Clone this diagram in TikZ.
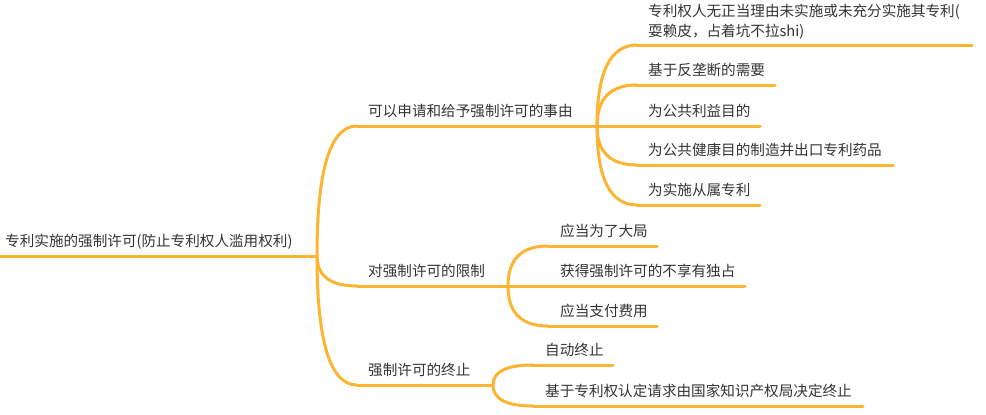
\documentclass[tikz,border=0pt]{standalone}
\usepackage{fontspec}
\setmainfont{Noto Sans CJK SC}
\usetikzlibrary{calc}
\definecolor{branchc}{HTML}{FDB431}
\definecolor{txtc}{HTML}{333333}
\tikzset{
  link/.style={draw=branchc, line width=3pt, line cap=round},
  lbl/.style={anchor=base west, inner sep=0pt, text=txtc, font=\fontsize{14.6}{20}\selectfont},
}
\newcommand{\mybranch}[2]{% junction, start
  \draw[link] (#1) .. controls ($(#1)!0.667!(#1|-#2)$) and ($(#2)!0.667!(#1|-#2)$) .. (#2);}
\begin{document}
\begin{tikzpicture}[x=1pt,y=-1pt]
\useasboundingbox (0,0) rectangle (986,415);
% root
\coordinate (r0) at (0,256);
\coordinate (rj) at (317,256);
\node[lbl] (root) at (5,246) {专利实施的强制许可(防止专利权人滥用权利)};
\draw[link] (r0) -- (rj);
% level 1
\coordinate (as) at (357,126); \coordinate (aj) at (597,126);
\coordinate (bs) at (357,286); \coordinate (bj) at (508,286);
\coordinate (cs) at (357,385); \coordinate (cj) at (493,385);
\node[lbl] (a) at (368,116) {可以申请和给予强制许可的事由};
\node[lbl] (b) at (368,276) {对强制许可的限制};
\node[lbl] (c) at (368,375) {强制许可的终止};
\mybranch{rj}{as} \draw[link] (as) -- (aj);
\mybranch{rj}{bs} \draw[link] (bs) -- (bj);
\mybranch{rj}{cs} \draw[link] (cs) -- (cj);
% children of a
\coordinate (a1s) at (637,45);  \coordinate (a1e) at (972,45);
\coordinate (a2s) at (637,85);  \coordinate (a2e) at (775,85);
\coordinate (a3e) at (760,126);
\coordinate (a4s) at (637,165); \coordinate (a4e) at (893,165);
\coordinate (a5s) at (637,205); \coordinate (a5e) at (760,205);
\node[lbl, anchor=north west, align=left] (a1) at (648,4) {专利权人无正当理由未实施或未充分实施其专利(\\耍赖皮，占着坑不拉shi)};
\node[lbl] (a2) at (648,75) {基于反垄断的需要};
\node[lbl] (a3) at (648,116) {为公共利益目的};
\node[lbl] (a4) at (648,155) {为公共健康目的制造并出口专利药品};
\node[lbl] (a5) at (648,195) {为实施从属专利};
\mybranch{aj}{a1s} \draw[link] (a1s) -- (a1e);
\mybranch{aj}{a2s} \draw[link] (a2s) -- (a2e);
\draw[link] (aj) -- (a3e);
\mybranch{aj}{a4s} \draw[link] (a4s) -- (a4e);
\mybranch{aj}{a5s} \draw[link] (a5s) -- (a5e);
% children of b
\coordinate (b1s) at (548,246); \coordinate (b1e) at (657,246);
\coordinate (b2e) at (745,286);
\coordinate (b3s) at (548,326); \coordinate (b3e) at (657,326);
\node[lbl] (b1) at (560,236) {应当为了大局};
\node[lbl] (b2) at (560,276) {获得强制许可的不享有独占};
\node[lbl] (b3) at (560,316) {应当支付费用};
\mybranch{bj}{b1s} \draw[link] (b1s) -- (b1e);
\draw[link] (bj) -- (b2e);
\mybranch{bj}{b3s} \draw[link] (b3s) -- (b3e);
% children of c
\coordinate (c1s) at (533,365); \coordinate (c1e) at (613,365);
\coordinate (c2s) at (533,406); \coordinate (c2e) at (863,406);
\node[lbl] (c1) at (545,355) {自动终止};
\node[lbl] (c2) at (545,396) {基于专利权认定请求由国家知识产权局决定终止};
\mybranch{cj}{c1s} \draw[link] (c1s) -- (c1e);
\mybranch{cj}{c2s} \draw[link] (c2s) -- (c2e);
\end{tikzpicture}
\end{document}
